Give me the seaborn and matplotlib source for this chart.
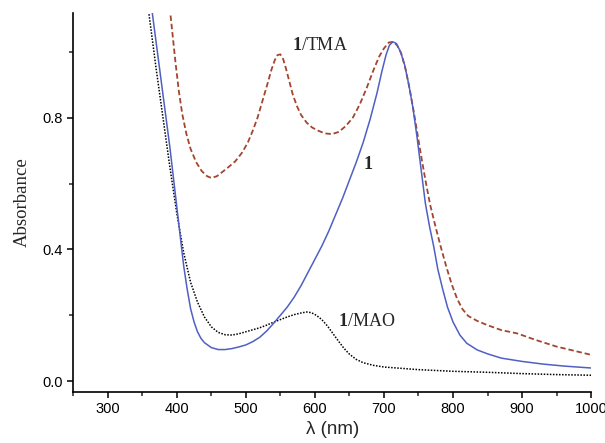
import numpy as np
import pandas as pd
import matplotlib
matplotlib.use("Agg")
import matplotlib.pyplot as plt
from matplotlib.ticker import MultipleLocator
import seaborn as sns

# spectrum of 1 (solid blue)
wl_1 = [360, 370, 380, 390, 400, 405, 410, 415, 420, 425, 430, 435, 440, 450,
        460, 470, 480, 490, 500, 510, 520, 530, 540, 550, 560, 570, 580, 590,
        600, 610, 620, 630, 640, 650, 660, 670, 680, 690, 697, 703, 708, 713,
        718, 724, 730, 736, 742, 748, 754, 760, 766, 772, 778, 785, 792, 800,
        810, 820, 835, 850, 870, 900, 930, 960, 1000]
abs_1 = [1.19, 1.03, 0.87, 0.71, 0.53, 0.44, 0.35, 0.28, 0.22, 0.18, 0.15, 0.13,
         0.117, 0.102, 0.096, 0.096, 0.099, 0.104, 0.11, 0.12, 0.133, 0.152,
         0.175, 0.20, 0.225, 0.255, 0.29, 0.33, 0.37, 0.41, 0.455, 0.505, 0.555,
         0.61, 0.665, 0.725, 0.795, 0.875, 0.94, 0.99, 1.02, 1.03, 1.025, 1.00,
         0.96, 0.90, 0.83, 0.74, 0.64, 0.54, 0.47, 0.41, 0.34, 0.28, 0.225,
         0.18, 0.14, 0.115, 0.095, 0.083, 0.07, 0.06, 0.052, 0.046, 0.04]

# 1/TMA (dashed red)
wl_tma = [388, 393, 398, 403, 408, 414, 420, 428, 436, 444, 450, 458, 466, 475,
          485, 495, 503, 510, 517, 524, 531, 537, 542, 546, 550, 554, 558, 563,
          568, 574, 580, 588, 596, 605, 615, 625, 635, 645, 655, 665, 675, 685,
          693, 700, 707, 713, 719, 725, 731, 737, 743, 749, 755, 761, 767, 774,
          782, 790, 798, 806, 814, 822, 835, 850, 870, 893, 920, 950, 980, 1000]
abs_tma = [1.17, 1.07, 0.97, 0.88, 0.81, 0.75, 0.705, 0.665, 0.638, 0.622, 0.617,
           0.622, 0.635, 0.65, 0.668, 0.695, 0.725, 0.76, 0.80, 0.85, 0.90, 0.945,
           0.975, 0.99, 0.992, 0.978, 0.95, 0.91, 0.87, 0.835, 0.808, 0.785, 0.77,
           0.76, 0.752, 0.75, 0.757, 0.775, 0.80, 0.84, 0.89, 0.945, 0.985, 1.01,
           1.028, 1.03, 1.02, 0.995, 0.95, 0.89, 0.82, 0.745, 0.67, 0.60, 0.535,
           0.475, 0.41, 0.35, 0.295, 0.25, 0.218, 0.198, 0.183, 0.17, 0.155,
           0.145, 0.125, 0.105, 0.09, 0.08]

# 1/MAO (dotted black)
wl_mao = [355, 360, 370, 380, 390, 400, 410, 420, 430, 440, 450, 460, 470, 480,
          490, 500, 510, 520, 530, 540, 550, 560, 570, 580, 588, 595, 602, 610,
          618, 626, 634, 642, 650, 660, 670, 685, 700, 750, 800, 850, 900, 950,
          1000]
abs_mao = [1.20, 1.11, 0.95, 0.80, 0.65, 0.51, 0.39, 0.30, 0.24, 0.195, 0.165,
           0.148, 0.141, 0.14, 0.144, 0.15, 0.156, 0.162, 0.17, 0.179, 0.187,
           0.195, 0.202, 0.207, 0.21, 0.208, 0.20, 0.187, 0.168, 0.145, 0.122,
           0.10, 0.082, 0.066, 0.056, 0.048, 0.043, 0.035, 0.03, 0.027, 0.023,
           0.02, 0.018]

sns.set_style("ticks")
plt.rcParams["font.family"] = ["Liberation Sans", "DejaVu Sans"]
plt.rcParams["mathtext.fontset"] = "custom"
plt.rcParams["mathtext.bf"] = "Liberation Serif:bold"
plt.rcParams["mathtext.rm"] = "Liberation Serif"

fig = plt.figure(figsize=(6.05, 4.43), dpi=100)
ax = fig.add_axes([0.121, 0.115, 0.856, 0.856])

sns.lineplot(x=wl_mao, y=abs_mao, ax=ax, color="black", lw=1.1,
             linestyle=(0, (1, 1)))
sns.lineplot(x=wl_tma, y=abs_tma, ax=ax, color="#a3452f", lw=1.3,
             linestyle=(0, (3, 1.6)))
sns.lineplot(x=wl_1, y=abs_1, ax=ax, color="#4f5fc3", lw=1.1)

ax.set_xlim(250, 1000)
ax.set_ylim(-0.033, 1.118)
ax.xaxis.set_minor_locator(MultipleLocator(50))
ax.yaxis.set_major_locator(MultipleLocator(0.4))
ax.yaxis.set_minor_locator(MultipleLocator(0.2))
ax.set_xticks([300, 400, 500, 600, 700, 800, 900, 1000])
ax.yaxis.set_major_formatter(plt.FormatStrFormatter("%.1f"))
ax.tick_params(which="major", direction="out", length=4, width=1.1,
               labelsize=10.5, colors="black")
ax.tick_params(which="minor", direction="out", length=3, width=1.1)
sns.despine(ax=ax)
for s in ["left", "bottom"]:
    ax.spines[s].set_linewidth(1.2)
    ax.spines[s].set_color("black")

ax.set_xlabel("λ (nm)", fontsize=13.5, labelpad=3)
ax.set_ylabel("Absorbance", fontsize=13.5, family=["Liberation Serif"],
              labelpad=8)

serif = ["Liberation Serif"]
ax.text(567, 1.02, r"$\mathbf{1}$/TMA", fontsize=13, va="center", ha="left",
        family=serif)
ax.text(669, 0.657, r"$\mathbf{1}$", fontsize=13, va="center", ha="left",
        family=serif)
ax.text(634, 0.18, r"$\mathbf{1}$/MAO", fontsize=13, va="center", ha="left",
        family=serif)

fig.savefig("out.png", dpi=100)
